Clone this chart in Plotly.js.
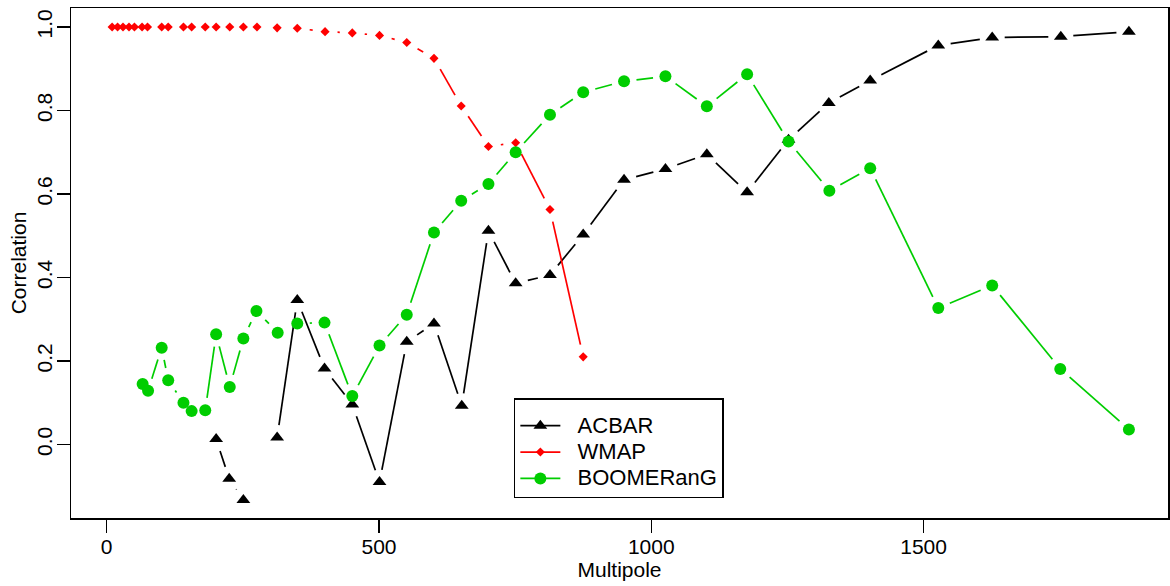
<!DOCTYPE html>
<html>
<head>
<meta charset="utf-8">
<script src="https://cdn.plot.ly/plotly-3.0.1.min.js"></script>
<style>html,body{margin:0;padding:0;background:#fff;}#chart{width:1170px;height:586px;}</style>
</head>
<body>
<div id="chart"></div>
<script>
// ---- data ----
const seriesNames = ["ACBAR", "WMAP", "BOOMERanG"];

const acbarX = [201, 225, 251, 282, 313, 350, 400, 451, 501, 551, 601, 652, 701, 751, 814, 875, 950, 1026, 1102, 1176, 1252, 1326, 1402, 1527, 1626, 1752, 1877];
const acbarY = [0.013, -0.082, -0.133, null, 0.017, 0.346, 0.182, 0.096, -0.090, 0.246, 0.290, 0.093, 0.512, 0.386, 0.406, 0.503, 0.634, 0.660, 0.695, 0.604, 0.730, 0.818, 0.872, 0.956, 0.975, 0.977, 0.989];

const wmapX = [10, 20, 30, 41, 51, 65, 75, 101, 113, 141, 156, 181, 201, 226, 251, 276, 313, 350, 401, 451, 501, 551, 601, 651, 701, 751, 814, 875];
const wmapY = [1.0, 1.0, 1.0, 1.0, 1.0, 1.0, 1.0, 1.0, 1.0, 1.0, 1.0, 1.0, 1.0, 1.0, 1.0, 1.0, 0.998, 0.997, 0.989, 0.986, 0.980, 0.963, 0.925, 0.811, 0.714, 0.723, 0.563, 0.210];

const boomX = [66, 76, 101, 113, 141, 156, 181, 201, 226, 251, 275, 314, 350, 400, 451, 501, 551, 601, 651, 701, 751, 814, 875, 950, 1026, 1102, 1176, 1252, 1327, 1402, 1527, 1626, 1751, 1877];
const boomY = [0.145, 0.129, 0.232, 0.154, 0.100, 0.080, 0.082, 0.264, 0.138, 0.254, 0.320, 0.268, 0.290, 0.292, 0.116, 0.237, 0.311, 0.508, 0.584, 0.624, 0.700, 0.790, 0.844, 0.870, 0.882, 0.810, 0.887, 0.726, 0.608, 0.662, 0.327, 0.381, 0.181, 0.036];

const xTickVals = [0, 500, 1000, 1500];
const yTickVals = [0.0, 0.2, 0.4, 0.6, 0.8, 1.0];

// ---- styling / layout constants ----
const colors = ["#000000", "#FF0000", "#00CD00"];
const symbols = ["triangle-up", "diamond", "circle"];
const sizes = [12, 7, 12];
const FONT = "Liberation Sans, Arial, Helvetica, sans-serif";
const margin = {l: 71, r: 2, t: 8, b: 68};
const figW = 1170, figH = 586;
const plotW = figW - margin.l - margin.r;
const plotH = figH - margin.t - margin.b;
const xRange = [-65.5, 1948.8];
const yRange = [-0.176, 1.0456];
const GAP = 12.5; // px gap around points (R type="b")

// line segments shortened around each point, derived from the data arrays
function gapLines(xs, ys) {
  const sx = plotW / (xRange[1] - xRange[0]);
  const sy = plotH / (yRange[1] - yRange[0]);
  const lx = [], ly = [];
  for (let i = 0; i < xs.length - 1; i++) {
    if (ys[i] == null || ys[i + 1] == null) continue;
    const ddx = xs[i + 1] - xs[i], ddy = ys[i + 1] - ys[i];
    const d = Math.hypot(ddx * sx, ddy * sy);
    if (d <= 2 * GAP) continue;
    const f = GAP / d;
    lx.push(xs[i] + ddx * f, xs[i + 1] - ddx * f, null);
    ly.push(ys[i] + ddy * f, ys[i + 1] - ddy * f, null);
  }
  return [lx, ly];
}

const dataSets = [[acbarX, acbarY], [wmapX, wmapY], [boomX, boomY]];
const traces = [];
dataSets.forEach((ds, k) => {
  const [lx, ly] = gapLines(ds[0], ds[1]);
  traces.push({x: lx, y: ly, type: "scatter", mode: "lines", showlegend: false, hoverinfo: "skip",
    line: {color: colors[k], width: 1.7}, connectgaps: false});
  traces.push({x: ds[0], y: ds[1], type: "scatter", mode: "markers", showlegend: false,
    marker: {symbol: symbols[k], size: sizes[k], color: colors[k], line: {width: 0}}});
});
// legend entries
const NB = "\u00A0\u00A0";
seriesNames.forEach((nm, k) => {
  traces.push({x: [null], y: [null], type: "scatter", mode: "lines+markers",
    name: '<span style="font-size:22px">' + NB + nm + '</span>', showlegend: true,
    line: {color: colors[k], width: 1.7},
    marker: {symbol: symbols[k], size: sizes[k], color: colors[k], line: {width: 0}}});
});

const axisCommon = {
  showgrid: false, zeroline: false, showline: true, mirror: true,
  linecolor: "#000", linewidth: 1.5, ticks: "outside", ticklen: 13, tickwidth: 1.3, tickcolor: "#000",
  tickfont: {family: FONT, size: 21, color: "#000"}
};

const layout = {
  width: figW, height: figH, margin: margin,
  paper_bgcolor: "#fff", plot_bgcolor: "#fff",
  font: {family: FONT, size: 21, color: "#000"},
  xaxis: Object.assign({}, axisCommon, {
    range: xRange, tickvals: xTickVals, ticktext: xTickVals.map(String),
    ticklabelstandoff: -4,
    title: {text: "Multipole", font: {family: FONT, size: 21, color: "#000"}, standoff: 3}
  }),
  yaxis: Object.assign({}, axisCommon, {
    range: yRange, tickvals: yTickVals, ticktext: yTickVals.map(v => v.toFixed(1)),
    tickangle: -90, ticklabelstandoff: -4,
    title: {text: "Correlation", font: {family: FONT, size: 21, color: "#000"}, standoff: 0}
  }),
  showlegend: true,
  legend: {
    x: 0.4037, y: 0.235, xanchor: "left", yanchor: "top",
    bgcolor: "#fff", bordercolor: "#000", borderwidth: 1.5,
    font: {family: FONT, size: 18, color: "#000"},
    title: {text: "\u00A0", font: {family: FONT, size: 6, color: "#fff"}, side: "top"},
    itemwidth: 40, tracegroupgap: 0
  }
};

Plotly.newPlot("chart", traces, layout, {displayModeBar: false, staticPlot: true});
</script>
</body>
</html>
